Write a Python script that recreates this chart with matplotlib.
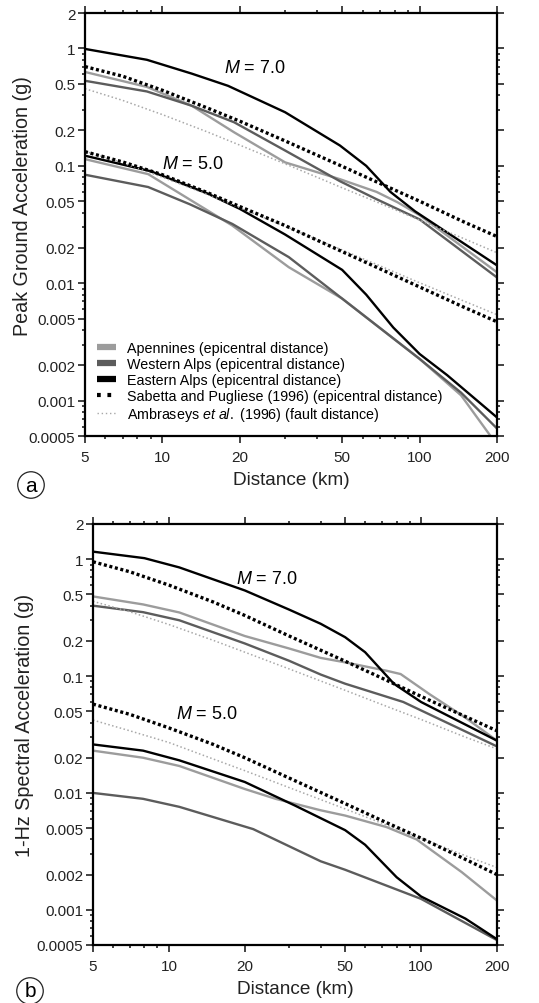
import numpy as np
import matplotlib.pyplot as plt
from matplotlib.lines import Line2D
from matplotlib.ticker import FixedLocator, NullFormatter

plt.rcParams['font.family'] = ['Liberation Sans', 'DejaVu Sans']
plt.rcParams['mathtext.fontset'] = 'custom'
plt.rcParams['mathtext.rm'] = 'Liberation Sans'
plt.rcParams['mathtext.it'] = 'Liberation Sans:italic'

# distances used for the two attenuation relations
d_rel = [5, 7, 10, 15, 20, 30, 50, 70, 100, 150, 200]

# (a) peak ground acceleration (g)
pga_sp_m7 = [0.70, 0.58, 0.44, 0.31, 0.24, 0.163, 0.099, 0.071, 0.050, 0.033, 0.025]
pga_sp_m5 = [0.132, 0.108, 0.084, 0.059, 0.045, 0.031, 0.0186, 0.0133, 0.0093, 0.0062, 0.0047]
pga_amb_m7 = [0.454, 0.361, 0.273, 0.194, 0.150, 0.104, 0.065, 0.048, 0.0345, 0.0238, 0.0182]
pga_amb_m5 = [0.133, 0.106, 0.080, 0.057, 0.044, 0.0305, 0.0192, 0.0141, 0.0101, 0.0070, 0.0054]

pga_ap_m7_d = [5, 8.7, 13, 19, 30, 49, 68, 82, 100, 200]
pga_ap_m7 = [0.63, 0.47, 0.325, 0.193, 0.107, 0.077, 0.060, 0.049, 0.038, 0.0124]
pga_wa_m7_d = [5, 8.7, 13, 19, 30, 49, 68, 100, 200]
pga_wa_m7 = [0.53, 0.43, 0.325, 0.235, 0.135, 0.074, 0.052, 0.035, 0.0112]
pga_ea_m7_d = [5, 8.7, 13, 18, 30, 49, 62, 77, 96, 200]
pga_ea_m7 = [0.99, 0.80, 0.61, 0.48, 0.286, 0.149, 0.100, 0.060, 0.041, 0.0142]

pga_ap_m5_d = [5, 8.8, 18.7, 31, 50, 100, 145, 200]
pga_ap_m5 = [0.114, 0.085, 0.031, 0.0137, 0.0074, 0.00227, 0.00111, 0.00042]
pga_wa_m5_d = [5, 8.8, 12.8, 18.7, 31, 50, 100, 145, 200]
pga_wa_m5 = [0.084, 0.066, 0.047, 0.032, 0.0167, 0.0074, 0.00227, 0.00117, 0.00058]
pga_ea_m5_d = [5, 9, 15, 20, 30, 50, 62, 79, 100, 128, 200]
pga_ea_m5 = [0.122, 0.090, 0.058, 0.043, 0.026, 0.0130, 0.0080, 0.0042, 0.0025, 0.00165, 0.00072]

# (b) 1-Hz spectral acceleration (g)
sa_sp_m7 = [0.95, 0.78, 0.60, 0.43, 0.33, 0.22, 0.134, 0.096, 0.067, 0.045, 0.034]
sa_sp_m5 = [0.0575, 0.047, 0.036, 0.026, 0.020, 0.0134, 0.0081, 0.0058, 0.0041, 0.0027, 0.0020]
sa_amb_m7 = [0.436, 0.355, 0.276, 0.202, 0.160, 0.115, 0.0755, 0.057, 0.0425, 0.030, 0.0238]
sa_amb_m5 = [0.042, 0.034, 0.027, 0.0195, 0.0155, 0.0111, 0.0073, 0.0055, 0.0041, 0.0029, 0.0023]

sa_ap_m7_d = [5, 7.9, 11, 20, 30, 40, 50, 73, 83, 108, 150, 200]
sa_ap_m7 = [0.48, 0.41, 0.35, 0.22, 0.172, 0.143, 0.131, 0.111, 0.104, 0.070, 0.044, 0.028]
sa_wa_m7_d = [5, 7.9, 11, 20, 30, 40, 50, 85, 200]
sa_wa_m7 = [0.40, 0.352, 0.30, 0.19, 0.135, 0.103, 0.086, 0.060, 0.025]
sa_ea_m7_d = [5, 8, 11, 20, 30, 40, 50, 60, 78, 100, 200]
sa_ea_m7 = [1.16, 1.02, 0.85, 0.54, 0.37, 0.28, 0.215, 0.160, 0.086, 0.060, 0.028]

sa_ap_m5_d = [5, 7.9, 11, 20, 26.5, 40, 50, 73, 96, 145, 200]
sa_ap_m5 = [0.023, 0.020, 0.017, 0.0108, 0.0089, 0.0071, 0.0064, 0.0051, 0.0040, 0.0021, 0.0012]
sa_wa_m5_d = [5, 7.9, 11, 21.6, 40, 50, 100, 200]
sa_wa_m5 = [0.0100, 0.0089, 0.0076, 0.0049, 0.0026, 0.0022, 0.00124, 0.00055]
sa_ea_m5_d = [5, 7.9, 11, 20, 31.6, 50, 60, 80, 100, 150, 200]
sa_ea_m5 = [0.026, 0.023, 0.019, 0.0124, 0.0078, 0.0048, 0.0036, 0.0019, 0.0013, 0.00084, 0.00056]

x_major = [5, 10, 20, 50, 100, 200]
x_minor = [6, 7, 8, 9, 30, 40, 60, 70, 80, 90]
y_major = [0.0005, 0.001, 0.002, 0.005, 0.01, 0.02, 0.05, 0.1, 0.2, 0.5, 1, 2]
y_labels = ['0.0005', '0.001', '0.002', '0.005', '0.01', '0.02', '0.05', '0.1', '0.2', '0.5', '1', '2']
y_minor = [m * 10.0**e for e in range(-4, 1) for m in (3, 4, 6, 7, 8, 9)]

c_ap = '#9c9c9c'
c_wa = '#5c5c5c'
c_ea = '#000000'
c_amb = '#a8a8a8'
sp_style = dict(color='black', lw=2.4, dashes=(0.9, 0.8))
amb_style = dict(color=c_amb, lw=1.1, dashes=(1.0, 1.6))
solid_lw = 1.7

fig = plt.figure(figsize=(5.39, 10.04), dpi=100)
ax1 = fig.add_axes([0.1577, 0.5647, 0.7644, 0.4213])
ax2 = fig.add_axes([0.1725, 0.0578, 0.7495, 0.4193])


def draw(ax, curves, sp7, sp5, amb7, amb5):
    for d, v, c in curves:
        ax.plot(d, v, color=c, lw=solid_lw, solid_joinstyle='round')
    ax.plot(d_rel, amb7, **amb_style)
    ax.plot(d_rel, amb5, **amb_style)
    ax.plot(d_rel, sp7, **sp_style)
    ax.plot(d_rel, sp5, **sp_style)


def style(ax, ylabel, ylab_xy):
    ax.set_xscale('log')
    ax.set_yscale('log')
    ax.set_xlim(5, 200)
    ax.set_ylim(0.0005, 2)
    ax.xaxis.set_major_locator(FixedLocator(x_major))
    ax.xaxis.set_minor_locator(FixedLocator(x_minor))
    ax.set_xticklabels([str(x) for x in x_major])
    ax.xaxis.set_minor_formatter(NullFormatter())
    ax.yaxis.set_major_locator(FixedLocator(y_major))
    ax.yaxis.set_minor_locator(FixedLocator(y_minor))
    ax.set_yticklabels(y_labels)
    ax.yaxis.set_minor_formatter(NullFormatter())
    ax.tick_params(which='both', direction='out', top=True, right=True,
                   labelsize=11, width=1.2, color='#222222', labelcolor='#222222')
    ax.tick_params(which='major', length=5, pad=2)
    ax.tick_params(axis='x', which='major', pad=5)
    ax.tick_params(which='minor', length=2.5)
    for s in ax.spines.values():
        s.set_linewidth(1.6)
    ax.set_xlabel('Distance (km)', fontsize=13.7, labelpad=5, color='#222222')
    ax.set_ylabel(ylabel, fontsize=14.2, color='#222222')
    ax.yaxis.set_label_coords(*ylab_xy)


draw(ax1, [(pga_ap_m7_d, pga_ap_m7, c_ap), (pga_wa_m7_d, pga_wa_m7, c_wa), (pga_ea_m7_d, pga_ea_m7, c_ea),
           (pga_ap_m5_d, pga_ap_m5, c_ap), (pga_wa_m5_d, pga_wa_m5, c_wa), (pga_ea_m5_d, pga_ea_m5, c_ea)],
     pga_sp_m7, pga_sp_m5, pga_amb_m7, pga_amb_m5)
draw(ax2, [(sa_ap_m7_d, sa_ap_m7, c_ap), (sa_wa_m7_d, sa_wa_m7, c_wa), (sa_ea_m7_d, sa_ea_m7, c_ea),
           (sa_ap_m5_d, sa_ap_m5, c_ap), (sa_wa_m5_d, sa_wa_m5, c_wa), (sa_ea_m5_d, sa_ea_m5, c_ea)],
     sa_sp_m7, sa_sp_m5, sa_amb_m7, sa_amb_m5)
style(ax1, 'Peak Ground Acceleration (g)', (-0.128, 0.546))
style(ax2, '1-Hz Spectral Acceleration (g)', (-0.145, 0.525))

ax1.text(22.9, 0.69, '$M$ = 7.0', fontsize=13, ha='center', va='center')
ax1.text(13.1, 0.104, '$M$ = 5.0', fontsize=13, ha='center', va='center')
ax2.text(24.4, 0.69, '$M$ = 7.0', fontsize=13, ha='center', va='center')
ax2.text(14.1, 0.0474, '$M$ = 5.0', fontsize=13, ha='center', va='center')

handles = [Line2D([], [], color=c_ap, lw=4.5, solid_capstyle='butt'),
           Line2D([], [], color=c_wa, lw=4.5, solid_capstyle='butt'),
           Line2D([], [], color=c_ea, lw=4.5, solid_capstyle='butt'),
           Line2D([], [], color='black', lw=3.0, dashes=(0.9, 1.6)),
           Line2D([], [], color=c_amb, lw=1.0, dashes=(1.0, 2.0))]
labels = ['Apennines (epicentral distance)', 'Western Alps (epicentral distance)',
          'Eastern Alps (epicentral distance)', 'Sabetta and Pugliese (1996) (epicentral distance)',
          'Ambraseys $\\it{et\\ al.}$ (1996) (fault distance)']
ax1.legend(handles, labels, loc='lower left', bbox_to_anchor=(0.005, 0.006), frameon=False,
           fontsize=10.3, handlelength=1.3, handletextpad=0.8, labelspacing=0.15, borderpad=0.2)

circ = dict(boxstyle='circle,pad=0.18', fc='white', ec='#222222', lw=0.9)
fig.text(31 / 539, 1 - 486 / 1004, 'a', fontsize=15, ha='center', va='center', bbox=circ)
fig.text(30 / 539, 1 - 992 / 1004, 'b', fontsize=15, ha='center', va='center', bbox=circ)

fig.savefig('out.png', dpi=100)
